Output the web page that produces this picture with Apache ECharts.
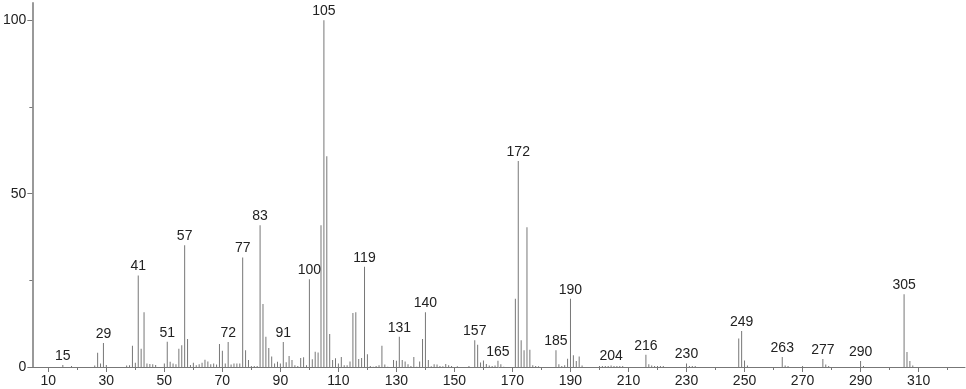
<!DOCTYPE html>
<html>
<head>
<meta charset="utf-8">
<script src="https://cdn.jsdelivr.net/npm/echarts@6/dist/echarts.min.js"></script>
<style>
html,body{margin:0;padding:0;background:#fff;}
#chart{width:966px;height:389px;}
</style>
</head>
<body>
<div id="chart"></div>
<script>
// m/z values and relative intensities
const mz = [15,18,26,27,28,29,30,37,38,39,40,41,42,43,44,45,46,47,50,51,52,53,54,55,56,57,58,59,60,61,62,
  63,64,65,66,67,68,69,70,71,72,73,74,75,76,77,78,79,80,81,82,83,84,85,86,87,88,89,90,91,92,93,94,95,96,97,98,99,
  100,101,102,103,104,105,106,107,108,109,110,111,112,113,114,115,116,117,118,119,120,121,122,123,124,125,126,127,
  129,130,131,132,133,134,135,136,137,138,139,140,141,142,143,144,145,146,147,148,149,151,155,157,158,159,160,161,
  162,163,164,165,166,167,171,172,173,174,175,176,177,178,179,185,186,187,188,189,190,191,192,193,194,
  200,201,202,203,204,205,206,207,208,216,217,218,219,220,221,222,230,231,232,233,248,249,250,251,
  263,264,265,270,277,278,279,290,291,305,306,307,308];
const intensity = [0.6,0.3,0.4,4.1,1.0,6.9,0.6,0.4,0.5,6.1,1.2,26.4,5.3,15.8,1.0,0.9,0.8,0.6,1.0,7.3,1.5,1.0,0.8,5.3,6.3,35.1,8.1,0.6,1.2,0.5,0.8,
  1.2,2.1,1.6,0.8,1.0,0.7,6.6,4.7,1.0,7.2,0.7,1.0,1.0,1.0,31.6,4.8,2.0,0.3,0.3,0.3,40.9,18.2,8.7,5.5,3.0,1.0,1.5,1.0,7.2,1.4,3.2,2.0,0.5,0.3,2.6,2.8,0.5,
  25.3,2.2,4.4,4.2,40.9,100,60.8,9.5,2.0,2.5,1.0,2.9,0.5,0.5,1.6,15.6,15.8,2.3,2.6,28.9,3.7,0.3,0.1,0.3,0.5,6.1,0.7,0.1,
  2.0,1.8,8.7,2.0,1.6,0.8,0.3,2.9,0.1,1.6,8.1,15.8,2.0,0.2,0.8,0.7,0.3,0.2,0.9,0.5,0.3,0.2,0.3,7.7,6.4,1.3,1.9,0.9,
  0.4,0.3,0.4,1.8,0.8,0.1,19.7,59.4,7.7,4.8,40.3,5.0,0.5,0.3,0.2,4.8,0.8,0.3,0.5,2.4,19.7,3.4,1.7,3.0,0.4,
  0.3,0.3,0.3,0.3,0.4,0.3,0.3,0.3,0.3,3.5,0.8,0.4,0.3,0.3,0.3,0.3,1.0,0.3,0.3,0.3,8.2,10.4,1.9,0.4,
  2.9,0.4,0.3,0.3,2.3,0.7,0.3,1.7,0.3,21.0,4.3,1.7,0.4];
const labeledPeaks = [15,29,41,51,57,72,77,83,91,100,105,119,131,140,157,165,172,185,190,204,216,230,249,263,277,290,305];
const xTickLabels = [10,30,50,70,90,110,130,150,170,190,210,230,250,270,290,310];
const xMinorTicks = [20,40,60,80,100,120,140,160,180,200,220,240,260,280,300,320];
const yTickLabels = [0,50,100];
const yMinorTicks = [25,75];

const font = "'Liberation Sans', 'DejaVu Sans', sans-serif";
const seriesData = mz.map((m, i) => ({
  value: [m, intensity[i]],
  label: { show: labeledPeaks.indexOf(m) >= 0 }
}));

const chart = echarts.init(document.getElementById('chart'), null, {renderer: 'canvas'});
chart.setOption({
  animation: false,
  grid: { left: 29, right: 1, top: 3, bottom: 22, containLabel: false },
  xAxis: [{
    type: 'value', min: 4.5, max: 326,
    splitLine: { show: false },
    axisLine: { show: true, lineStyle: { color: '#777', width: 1 } },
    axisTick: { show: true, customValues: xTickLabels, length: 5, lineStyle: { color: '#777' } },
    axisLabel: { customValues: xTickLabels, margin: 7, color: '#222', fontSize: 14, fontFamily: font }
  }, {
    type: 'value', min: 4.5, max: 326, position: 'bottom',
    splitLine: { show: false },
    axisLine: { show: false },
    axisTick: { show: true, customValues: xMinorTicks, length: 3, lineStyle: { color: '#777' } },
    axisLabel: { show: false }
  }],
  yAxis: [{
    type: 'value', min: 0, max: 105,
    splitLine: { show: false },
    axisLine: { show: true, lineStyle: { color: '#999', width: 2 } },
    axisTick: { show: true, customValues: yTickLabels, length: 5, lineStyle: { color: '#777' } },
    axisLabel: { customValues: yTickLabels, margin: 6, color: '#222', fontSize: 14, fontFamily: font }
  }, {
    type: 'value', min: 0, max: 105, position: 'left',
    splitLine: { show: false },
    axisLine: { show: false },
    axisTick: { show: true, customValues: yMinorTicks, length: 3, lineStyle: { color: '#777' } },
    axisLabel: { show: false }
  }],
  series: [{
    type: 'bar',
    xAxisIndex: 0, yAxisIndex: 0,
    barWidth: 1,
    data: seriesData,
    itemStyle: { color: '#777777' },
    label: { show: false, position: 'top', distance: 2, color: '#222', fontSize: 14, fontFamily: font,
      formatter: p => String(p.value[0]) }
  }]
});
</script>
</body>
</html>
